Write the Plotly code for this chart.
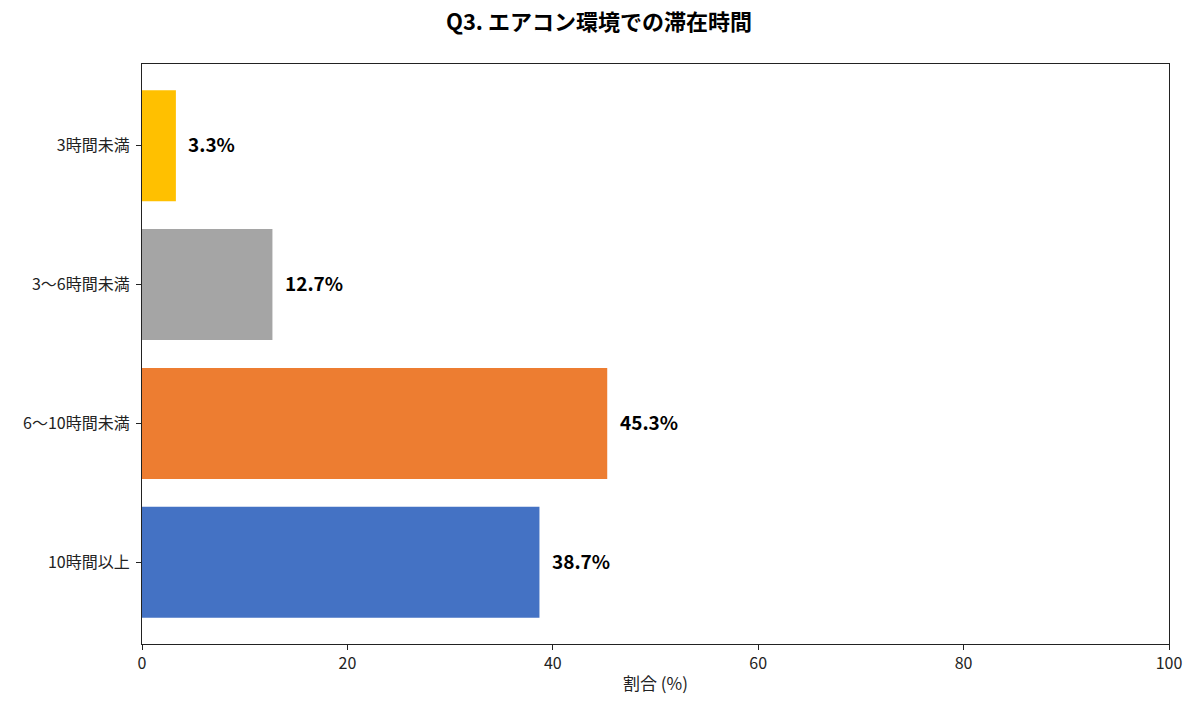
import plotly.graph_objects as go

categories = ["10時間以上", "6〜10時間未満", "3〜6時間未満", "3時間未満"]
values = [38.7, 45.3, 12.7, 3.3]
colors = ["#4472C4", "#ED7D31", "#A5A5A5", "#FFC000"]
x_ticks = [0, 20, 40, 60, 80, 100]

FONT = "Noto Sans CJK JP"

fig = go.Figure()
fig.add_trace(go.Bar(
    y=categories, x=values, orientation="h",
    marker=dict(color=colors, line=dict(width=0)),
    width=0.8, showlegend=False, hoverinfo="x+y",
))
for c, v in zip(categories, values):
    fig.add_annotation(x=v + 1, y=c, text=f"<b>{v:.1f}%</b>", showarrow=False,
                       xanchor="left", yanchor="middle", yshift=2,
                       font=dict(family=FONT, size=19, color="black"))

fig.update_layout(
    width=1198, height=711,
    margin=dict(l=142, r=29, t=64, b=67),
    plot_bgcolor="white", paper_bgcolor="white",
    font=dict(family=FONT, size=16, color="#222"),
    title=dict(text="<b>Q3. エアコン環境での滞在時間</b>", x=0.5, xanchor="center",
               y=1 - 22 / 711, yanchor="middle",
               font=dict(family=FONT, size=22, color="black")),
    bargap=0.2,
)
fig.update_xaxes(range=[0, 100], tickvals=x_ticks, ticks="outside", ticklen=5,
                 tickcolor="#222", showline=True, linecolor="#222", linewidth=1.2,
                 mirror=True, showgrid=False, zeroline=False,
                 title=dict(text="割合 (%)", font=dict(family=FONT, size=17), standoff=4),
                 tickfont=dict(family=FONT, size=16, color="#222"))
fig.update_yaxes(range=[-0.59, 3.59], categoryorder="array", categoryarray=categories,
                 ticks="outside", ticklen=5, tickcolor="#222", showline=True,
                 linecolor="#222", linewidth=1.2, mirror=True, showgrid=False,
                 ticklabelstandoff=3,
                 tickfont=dict(family=FONT, size=16, color="#222"))

fig.write_html("out.html")
